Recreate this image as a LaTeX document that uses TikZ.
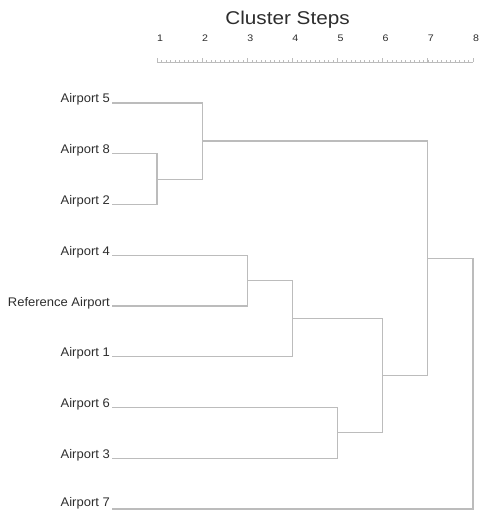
\documentclass[tikz,border=0pt]{standalone}
\usepackage{fontspec}
\setmainfont{Liberation Sans}[FakeStretch=1.12]
\newfontfamily\leaffont{Liberation Sans}[FakeStretch=1.04]
\definecolor{linegray}{RGB}{188,188,188}
\definecolor{txtgray}{RGB}{45,45,45}
\tikzset{
  lab/.style={anchor=base east, inner sep=0pt, text=txtgray, font=\leaffont\fontsize{12.5}{14}\selectfont},
  ticklab/.style={anchor=base, inner sep=0pt, text=txtgray, font=\fontsize{9.5}{11}\selectfont},
  titlelab/.style={anchor=base, inner sep=0pt, text=txtgray, font=\fontsize{18.5}{21}\selectfont},
  tree/.style={draw=linegray, line width=1.1pt},
  axisline/.style={draw=linegray, line width=0.9pt},
  minortick/.style={draw=linegray, line width=0.5pt}
}
\begin{document}
\begin{tikzpicture}[x=1pt,y=-1pt]
\useasboundingbox (0,0) rectangle (479,510);
% step positions
\def\sA{157}\def\sB{202.1}\def\sC{247.3}\def\sD{292.4}
\def\sE{337.6}\def\sF{382.7}\def\sG{427.9}\def\sH{473}
% title and axis
\node[titlelab] (title) at (287.5,25) {Cluster Steps};
\foreach \i/\x in {1/\sA,2/\sB,3/\sC,4/\sD,5/\sE,6/\sF,7/\sG,8/\sH}{
  \node[ticklab] (tl\i) at (\x+3,42) {\i};
  \draw[axisline] (\x,62) -- (\x,58);
}
\coordinate (axL) at (\sA,62);
\coordinate (axR) at (\sH,62);
\draw[axisline] (axL) -- (axR);
\foreach \k in {1,...,69}{
  \draw[minortick] (\sA+\k*4.5143,62) -- (\sA+\k*4.5143,60.3);
}
% leaf labels
\node[lab] (t5) at (110,103) {Airport 5};
\node[lab] (t8) at (110,153.75) {Airport 8};
\node[lab] (t2) at (110,204.5) {Airport 2};
\node[lab] (t4) at (110,255.25) {Airport 4};
\node[lab] (tR) at (110,306) {Reference Airport};
\node[lab] (t1) at (110,356.75) {Airport 1};
\node[lab] (t6) at (110,407.5) {Airport 6};
\node[lab] (t3) at (110,458.25) {Airport 3};
\node[lab] (t7) at (110,506.5) {Airport 7};
% leaf line starts
\foreach \n in {5,8,2,4,R,1,6,3}{
  \coordinate (l\n) at ([xshift=2pt]t\n.base east);
}
\coordinate (l7) at ([xshift=2pt,yshift=-2.5pt]t7.base east);
% merge points
\coordinate (m82) at (\sA,179.1);
\coordinate (m5) at (\sB,141);
\coordinate (m4R) at (\sC,280.6);
\coordinate (m1) at (\sD,318.7);
\coordinate (m63) at (\sE,432.9);
\coordinate (m6) at (\sF,375.8);
\coordinate (m7) at (\sG,258.4);
\coordinate (m8) at (\sH,258.4);
% dendrogram
\draw[tree] (l8) -| (m82) |- (l2);
\draw[tree] (l5) -| (m5) |- (m82);
\draw[tree] (l4) -| (m4R) |- (lR);
\draw[tree] (m4R) -| (m1) |- (l1);
\draw[tree] (l6) -| (m63) |- (l3);
\draw[tree] (m1) -| (m6) |- (m63);
\draw[tree] (m5) -| (m7) |- (m6);
\draw[tree] (m7) -- (m8) |- (l7);
\end{tikzpicture}
\end{document}
